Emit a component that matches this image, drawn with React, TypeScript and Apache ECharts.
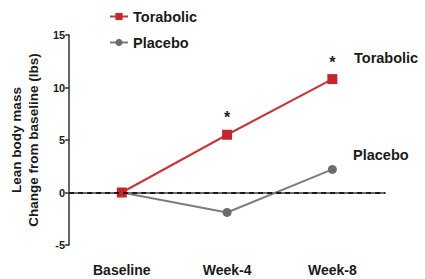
import React, { useEffect, useRef } from "react";
import * as echarts from "echarts";

const categories = ["Baseline", "Week-4", "Week-8"];
const torabolic = [0, 5.5, 10.8];
const placebo = [0, -1.9, 2.2];
const torabolicSig = [false, true, true];
const yTicks = [-5, 0, 5, 10, 15];

const FONT = "Liberation Sans, Arial, sans-serif";

export default function App() {
  const ref = useRef<HTMLDivElement>(null);
  useEffect(() => {
    if (!ref.current) return;
    const chart = echarts.init(ref.current, undefined, { renderer: "svg" });
    chart.setOption({
      animation: false,
      backgroundColor: "#ffffff",
      textStyle: { fontFamily: FONT },
      grid: { left: 67, right: 40, top: 35, bottom: 34 },
      legend: {
        orient: "vertical",
        left: 104,
        top: 4,
        itemGap: 11,
        itemWidth: 18,
        itemHeight: 9,
        textStyle: { fontFamily: FONT, fontSize: 14.5, fontWeight: "bold", color: "#1a1a1a" },
        data: ["Torabolic", "Placebo"],
      },
      xAxis: {
        type: "category",
        data: categories,
        boundaryGap: true,
        axisLine: { lineStyle: { color: "#6e6e6e", width: 2 } },
        axisTick: { show: false },
        axisLabel: { fontFamily: FONT, fontSize: 14, fontWeight: "bold", color: "#1a1a1a", margin: 18 },
      },
      yAxis: {
        type: "value",
        min: yTicks[0],
        max: yTicks[yTicks.length - 1],
        interval: 5,
        splitLine: { show: false },
        axisLine: { show: true, lineStyle: { color: "#333", width: 1.5 } },
        axisTick: { show: true, length: 4, lineStyle: { color: "#333", width: 1.5 } },
        axisLabel: { fontFamily: FONT, fontSize: 11, fontWeight: "bold", color: "#1a1a1a", margin: 4 },
        name: "Lean body mass\nChange from baseline (lbs)",
        nameLocation: "middle",
        nameGap: 24,
        nameTextStyle: { fontFamily: FONT, fontSize: 13.5, fontWeight: "bold", color: "#1a1a1a", lineHeight: 17 },
      },
      graphic: [
        {
          type: "text",
          left: 354,
          top: 50,
          style: { text: "Torabolic", fontFamily: FONT, fontSize: 14.5, fontWeight: "bold", fill: "#1a1a1a" },
        },
        {
          type: "text",
          left: 353,
          top: 147,
          style: { text: "Placebo", fontFamily: FONT, fontSize: 14.5, fontWeight: "bold", fill: "#1a1a1a" },
        },
      ],
      series: [
        {
          name: "Placebo",
          type: "line",
          data: placebo,
          symbol: "circle",
          symbolSize: 9,
          itemStyle: { color: "#6b6b6b" },
          lineStyle: { color: "#7d7d7d", width: 2 },
          markLine: {
            silent: true,
            symbol: "none",
            label: { show: false },
            lineStyle: { color: "#000", type: [5, 4], width: 1.6 },
            data: [{ yAxis: 0 }],
          },
        },
        {
          name: "Torabolic",
          type: "line",
          data: torabolic.map((v, i) => ({
            value: v,
            label: torabolicSig[i]
              ? { show: true, formatter: "*", position: "top", distance: 4, fontSize: 16, fontWeight: "bold", color: "#222" }
              : { show: false },
          })),
          symbol: "rect",
          symbolSize: 10,
          itemStyle: { color: "#c1272d" },
          lineStyle: { color: "#c8353a", width: 2 },
        },
      ],
    });
    return () => chart.dispose();
  }, []);
  return <div ref={ref} style={{ position: "fixed", left: 0, top: 0, width: 425, height: 279 }} />;
}
